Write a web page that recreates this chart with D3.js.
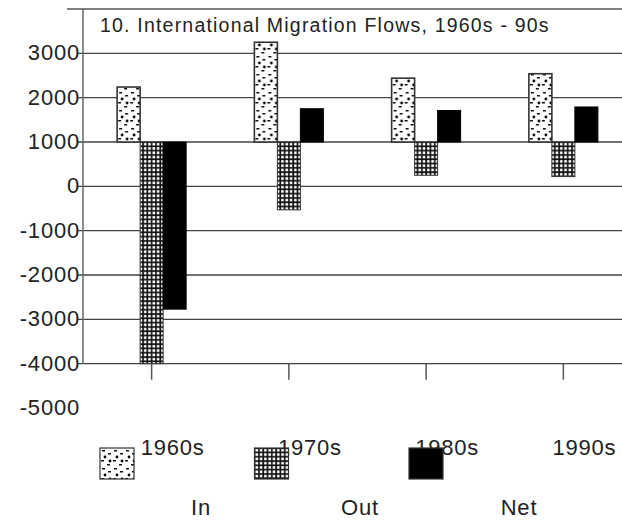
<!DOCTYPE html>
<html>
<head>
<meta charset="utf-8">
<script src="https://cdn.jsdelivr.net/npm/d3@7"></script>
<style>
  body { margin: 0; background: #fff; }
  svg text { font-family: "Liberation Sans", Arial, sans-serif; fill: #222; }
  .tickText { font-size: 22px; letter-spacing: 0.8px; }
  .title { font-size: 19.5px; letter-spacing: 1.2px; }
</style>
</head>
<body>
<svg id="chart" width="622" height="520"></svg>
<script>
const decades = ["1960s", "1970s", "1980s", "1990s"];
const series = ["In", "Out", "Net"];
const inValues = [2240, 3250, 2440, 2540];
const outValues = [-4000, -530, 250, 220];
const netValues = [-2770, 1750, 1710, 1790];
const yTicks = [3000, 2000, 1000, 0, -1000, -2000, -3000, -4000, -5000];
const baseline = 1000;

translate = function(a, b) {
  return "translate(" + a + ", " + b + ")";
}

const svg = d3.select("#chart");

// patterns for the fills
let defs = svg.append("defs");

let dots = defs.append("pattern")
  .attr("id", "dots")
  .attr("patternUnits", "userSpaceOnUse")
  .attr("width", 12)
  .attr("height", 18);
dots.append("rect").attr("width", 12).attr("height", 18).attr("fill", "#fff");
[[2, 2], [8, 5], [1, 12], [7, 16]].forEach(function(p) {
  dots.append("rect").attr("x", p[0]).attr("y", p[1]).attr("width", 3).attr("height", 1.5).attr("fill", "#111");
});
[[5, 9], [10, 13]].forEach(function(p) {
  dots.append("circle").attr("cx", p[0]).attr("cy", p[1]).attr("r", 1.4).attr("fill", "#000");
});

let checks = defs.append("pattern")
  .attr("id", "checks")
  .attr("patternUnits", "userSpaceOnUse")
  .attr("width", 4.3)
  .attr("height", 4.3);
checks.append("rect").attr("width", 4.3).attr("height", 4.3).attr("fill", "#111");
checks.append("rect").attr("x", 1).attr("y", 1).attr("width", 2.6).attr("height", 2.6).attr("fill", "#fff");

const fills = { "In": "url(#dots)", "Out": "url(#checks)", "Net": "#000" };

// scales
let x = d3.scaleBand().domain(decades).range([83, 632]);
let xInner = d3.scaleBand().domain(series).range([0, 69]);
let y = d3.scaleLinear().domain([-5000, 4000]).range([408, 9]);
let left = 83;
let right = 622;

// top border
svg.append("line")
  .attr("x1", 67).attr("x2", right)
  .attr("y1", y(4000)).attr("y2", y(4000))
  .attr("stroke", "#555").attr("stroke-width", 1.5);

// gridlines
svg.append("g")
  .selectAll("line")
  .data(yTicks.filter(d => d >= -4000))
  .enter()
  .append("line")
  .attr("x1", left - 6).attr("x2", right)
  .attr("y1", d => y(d)).attr("y2", d => y(d))
  .attr("stroke", "#444").attr("stroke-width", 1.4);

// vertical axis
svg.append("line")
  .attr("x1", left).attr("x2", left)
  .attr("y1", y(4000)).attr("y2", y(-4000))
  .attr("stroke", "#666").attr("stroke-width", 1.5);

// bars, all drawn from the 1000 line
let groups = svg.selectAll("g.decade")
  .data(decades)
  .enter()
  .append("g")
  .attr("class", "decade")
  .attr("transform", d => translate(x(d) + (x.bandwidth() - 69) / 2, 0));

groups.selectAll("rect")
  .data(function(d, i) {
    return [
      { key: "In", value: inValues[i] },
      { key: "Out", value: outValues[i] },
      { key: "Net", value: netValues[i] }
    ];
  })
  .enter()
  .append("rect")
  .attr("x", d => xInner(d.key))
  .attr("y", d => y(Math.max(d.value, baseline)))
  .attr("width", xInner.bandwidth())
  .attr("height", d => Math.abs(y(d.value) - y(baseline)))
  .attr("fill", d => fills[d.key])
  .attr("stroke", d => d.key == "Net" ? "#000" : "#333")
  .attr("stroke-width", d => d.key == "In" ? 1.6 : 1);

// x axis ticks
svg.append("g")
  .selectAll("line")
  .data(decades)
  .enter()
  .append("line")
  .attr("x1", d => x(d) + x.bandwidth() / 2)
  .attr("x2", d => x(d) + x.bandwidth() / 2)
  .attr("y1", y(-4000)).attr("y2", y(-4000) + 16)
  .attr("stroke", "#555").attr("stroke-width", 1.5);

// y labels
svg.append("g")
  .selectAll("text")
  .data(yTicks)
  .enter()
  .append("text")
  .attr("class", "tickText")
  .attr("x", 80)
  .attr("y", d => y(d) + 7)
  .attr("text-anchor", "end")
  .text(d => d);

// decade labels
svg.append("g")
  .selectAll("text")
  .data(decades)
  .enter()
  .append("text")
  .attr("class", "tickText")
  .attr("x", d => x(d) + x.bandwidth() / 2 - 11)
  .attr("y", 455)
  .text(d => d);

// legend
let legend = svg.append("g").attr("id", "legend");
let items = legend.selectAll("g")
  .data(series)
  .enter()
  .append("g")
  .attr("transform", (d, i) => translate(100 + i * 154.5, 448));

items.append("rect")
  .attr("width", 34)
  .attr("height", 31)
  .attr("fill", d => fills[d])
  .attr("stroke", "#333")
  .attr("stroke-width", 1.2);

legend.selectAll("text")
  .data(series)
  .enter()
  .append("text")
  .attr("class", "tickText")
  .attr("x", (d, i) => 201 + i * 159)
  .attr("y", 515)
  .attr("text-anchor", "middle")
  .text(d => d);

// title
svg.append("text")
  .attr("class", "title")
  .attr("x", 100)
  .attr("y", 32)
  .text("10.  International Migration Flows, 1960s - 90s");
</script>
</body>
</html>
